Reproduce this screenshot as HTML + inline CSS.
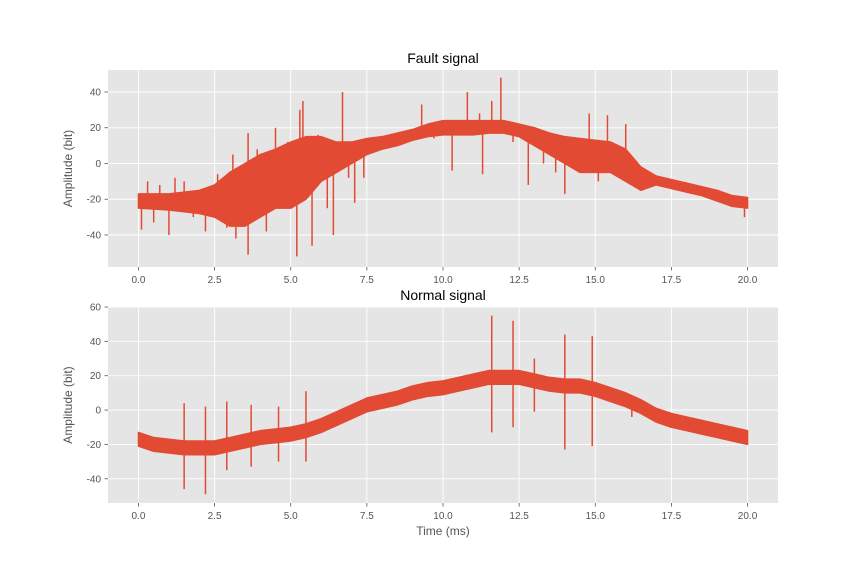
<!DOCTYPE html>
<html><head><meta charset="utf-8"><style>
body{margin:0;background:#fff;font-family:"Liberation Sans","DejaVu Sans",sans-serif}
svg text{font-family:"Liberation Sans","DejaVu Sans",sans-serif}
</style></head><body>
<svg id="c" width="864" height="576" xmlns="http://www.w3.org/2000/svg"></svg>
<script>
const xTicks=[0,2.5,5,7.5,10,12.5,15,17.5,20];
const topYTicks=[-40,-20,0,20,40];
const botYTicks=[-40,-20,0,20,40,60];
const faultT=[0,1,2,2.5,3,3.5,4,4.5,5,5.5,6,6.5,7,7.5,8,8.5,9,9.5,10,10.5,11,11.5,12,12.5,13,13.5,14,14.5,15,15.5,16,16.5,17,17.5,18,18.5,19,19.5,20];
const faultUpper=[-17,-17,-15,-12,-5,0,5,8,12,15,15,12,12,14,15,17,19,22,24,24,24,24,24,22,20,17,15,14,13,12,8,-2,-7,-9,-11,-13,-15,-18,-19];
const faultLower=[-25,-26,-28,-30,-35,-35,-30,-25,-25,-20,-10,-5,0,5,8,10,13,15,16,16,16,17,17,15,10,5,0,-5,-5,-5,-10,-15,-12,-14,-16,-18,-21,-24,-25];
const faultSpikeT=[0.1,0.3,0.5,0.7,1.0,1.2,1.5,1.8,2.2,2.6,2.9,3.1,3.2,3.4,3.6,3.6,3.9,4.2,4.5,4.7,4.9,5.2,5.3,5.4,5.5,5.7,5.9,6.0,6.2,6.4,6.7,6.9,7.1,7.4,9.3,9.7,10.3,10.8,11.3,11.6,11.9,11.2,12.3,12.8,13.3,13.7,14.0,14.4,14.8,15.1,15.4,15.7,16.0,16.3,19.9];
const faultSpikeV=[-37,-10,-33,-12,-40,-8,-10,-30,-38,-6,-36,5,-42,-33,-51,17,8,-38,20,-25,12,-52,30,35,-8,-46,16,15,-25,-40,40,-8,-22,-8,33,14,-4,40,-6,35,48,28,12,-12,0,-5,-17,10,28,-10,27,-6,22,-10,-30];
const normT=[0,0.5,1,1.5,2,2.5,3,3.5,4,4.5,5,5.5,6,6.5,7,7.5,8,8.5,9,9.5,10,10.5,11,11.5,12,12.5,13,13.5,14,14.5,15,15.5,16,16.5,17,17.5,18,18.5,19,19.5,20];
const normUpper=[-13,-16,-17,-18,-18,-18,-16,-14,-12,-11,-10,-8,-5,-1,3,7,9,11,14,16,17,19,21,23,23,23,21,19,18,18,16,13,10,6,1,-2,-4,-6,-8,-10,-12];
const normLower=[-21,-24,-25,-26,-26,-26,-24,-22,-20,-19,-18,-16,-13,-9,-5,-1,1,3,6,8,9,11,13,15,15,15,13,11,10,10,8,5,2,-2,-7,-10,-12,-14,-16,-18,-20];
const normSpikeT=[1.5,1.5,2.2,2.2,2.9,2.9,3.7,3.7,4.6,4.6,5.5,5.5,11.6,11.6,12.3,12.3,13.0,13.0,14.0,14.0,14.9,14.9,16.2];
const normSpikeV=[-46,4,-49,2,-35,5,-33,3,-30,2,-30,11,55,-13,52,-10,30,-1,44,-23,43,-21,-4];

const NS="http://www.w3.org/2000/svg";
const svg=document.getElementById('c');
function mk(tag,attrs,parent){const e=document.createElementNS(NS,tag);for(const k in attrs)e.setAttribute(k,attrs[k]);(parent||svg).appendChild(e);return e;}
const xs=t=>108+(t+1)*(670/22);

function panel(name,top,bottom,ymin,ymax,yTicks,title,T,U,L,ST,SV,xlabel){
  const g=mk('g',{});
  
  
  const ys=v=>bottom-(v-ymin)/(ymax-ymin)*(bottom-top);
  const bg=mk('rect',{x:108,y:top,width:670,height:bottom-top,fill:'#E5E5E5'},g);
  
  
  xTicks.forEach(t=>{
    mk('line',{x1:xs(t),x2:xs(t),y1:top,y2:bottom,stroke:'#fff','stroke-width':0.9},g);
    mk('line',{x1:xs(t),x2:xs(t),y1:bottom,y2:bottom+3.5,stroke:'#555','stroke-width':0.8},g);
    const tx=mk('text',{x:xs(t),y:bottom+16,'font-size':10,fill:'#555','text-anchor':'middle'},g);
    tx.textContent=t.toFixed(1);
    
    
  });
  yTicks.forEach(v=>{
    mk('line',{x1:108,x2:778,y1:ys(v),y2:ys(v),stroke:'#fff','stroke-width':0.9},g);
    mk('line',{x1:104.5,x2:108,y1:ys(v),y2:ys(v),stroke:'#555','stroke-width':0.8},g);
    const ty=mk('text',{x:101,y:ys(v)+3.5,'font-size':10,fill:'#555','text-anchor':'end'},g);
    ty.textContent=v;
    
    
  });
  let pts=[];
  for(let i=0;i<T.length;i++)pts.push(xs(T[i])+','+ys(U[i]));
  for(let i=T.length-1;i>=0;i--)pts.push(xs(T[i])+','+ys(L[i]));
  const band=mk('polygon',{points:pts.join(' '),fill:'#E24A33',stroke:'#E24A33','stroke-width':1.5,'stroke-linejoin':'round'},g);
  
  
  for(let i=0;i<ST.length;i++){
    let j=0,best=1e9;for(let k=0;k<T.length;k++){const d=Math.abs(T[k]-ST[i]);if(d<best){best=d;j=k;}}
    const mid=(U[j]+L[j])/2;
    const sp=mk('line',{x1:xs(ST[i]),x2:xs(ST[i]),y1:ys(mid),y2:ys(SV[i]),stroke:'#E24A33','stroke-width':1.5},g);
    
    
  }
  const ti=mk('text',{x:443,y:top-7,'font-size':14,fill:'#000','text-anchor':'middle'},g);
  ti.textContent=title;
  
  
  const yl=mk('text',{x:0,y:0,'font-size':12,fill:'#555','text-anchor':'middle',transform:`translate(72,${(top+bottom)/2}) rotate(-90)`},g);
  yl.textContent='Amplitude (bit)';
  
  
  if(xlabel){
    const xl=mk('text',{x:443,y:bottom+32,'font-size':12,fill:'#555','text-anchor':'middle'},g);
    xl.textContent=xlabel;
    
    
  }
}
panel('fault',70,267,-57.9,52.3,topYTicks,'Fault signal',faultT,faultUpper,faultLower,faultSpikeT,faultSpikeV,null);
panel('normal',307,503,-54.1,60,botYTicks,'Normal signal',normT,normUpper,normLower,normSpikeT,normSpikeV,'Time (ms)');
</script>
</body></html>
